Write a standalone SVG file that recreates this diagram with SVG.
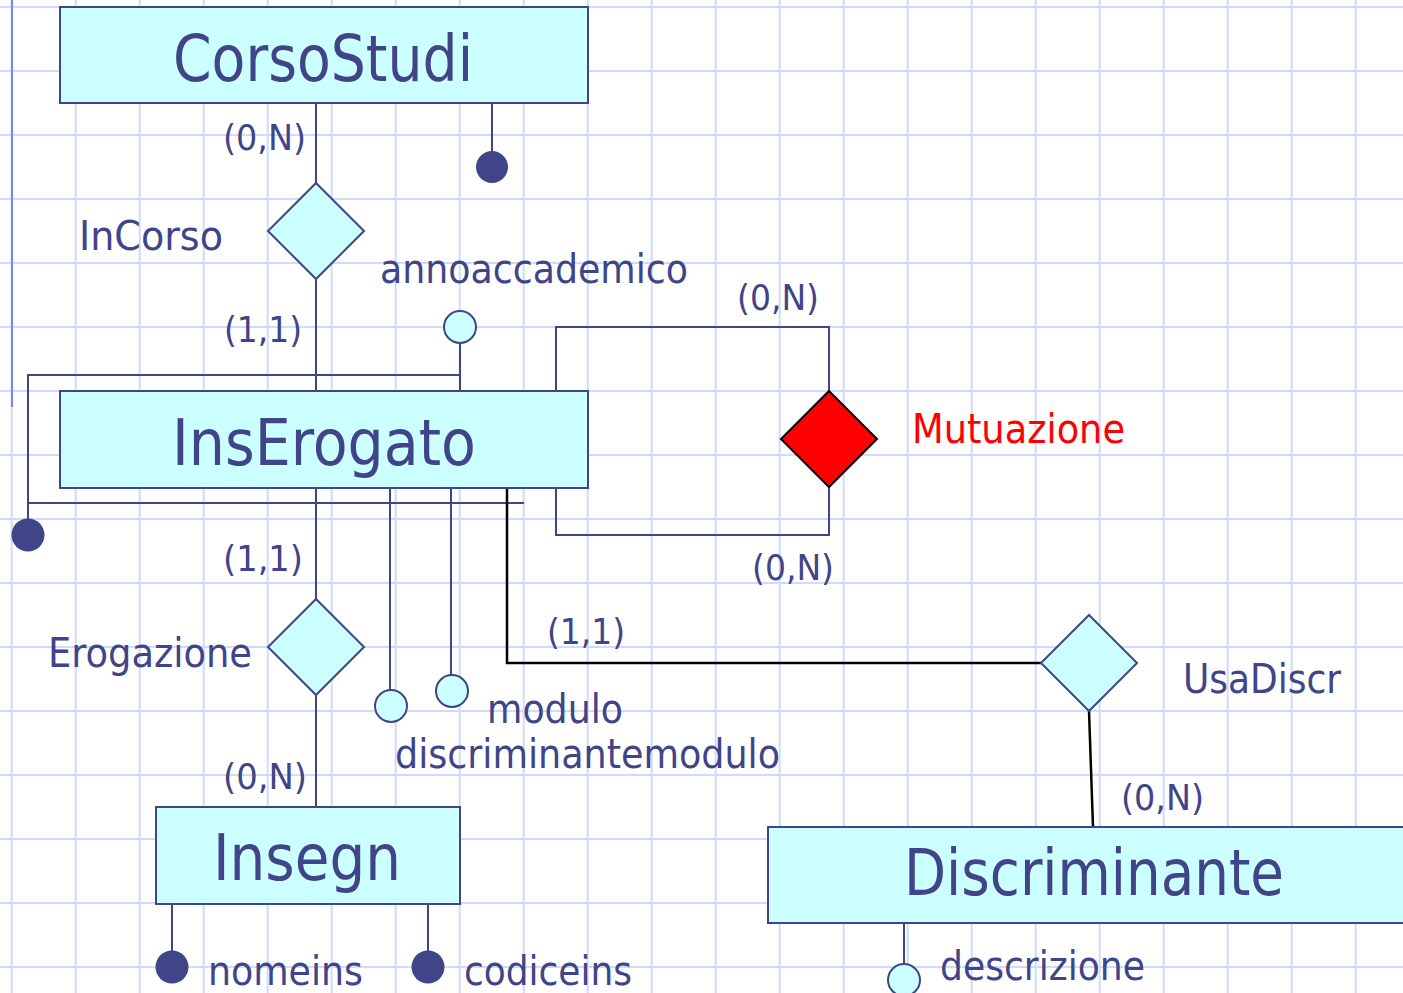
<svg xmlns="http://www.w3.org/2000/svg" width="1403" height="993" viewBox="0 0 1403 993">
<defs>
<pattern id="grid" x="10.7" y="6" width="64" height="64" patternUnits="userSpaceOnUse">
<path d="M0 1 H64 M1 0 V64" fill="none" stroke="#d0dbfb" stroke-width="2"/>
</pattern>
</defs>
<style>
.ent{fill:#ccffff;stroke:#404488;stroke-width:2}
.rel{fill:#ccffff;stroke:#404488;stroke-width:2}
.ln{fill:none;stroke:#404488;stroke-width:2}
.blk{fill:none;stroke:#000000;stroke-width:2.5}
.dot{fill:#404488;stroke:none}
.att{fill:#ccffff;stroke:#404488;stroke-width:2}
text{font-family:"DejaVu Sans Condensed","DejaVu Sans",sans-serif;fill:#404488}
.big{font-size:64px}
.lab{font-size:40px}
.card{font-size:36px}
.red{fill:#ff0000}
</style>
<rect width="1403" height="993" fill="#ffffff"/>
<rect width="1403" height="993" fill="url(#grid)"/>
<line x1="12" y1="0" x2="12" y2="407" stroke="#7388ee" stroke-width="2"/>

<g id="connectors">
<line class="ln" x1="316" y1="103" x2="316" y2="183"/>
<line class="ln" x1="492" y1="103" x2="492" y2="152"/>
<line class="ln" x1="316" y1="279" x2="316" y2="391"/>
<polyline class="ln" points="460,343 460,375 28,375 28,520"/>
<line class="ln" x1="460" y1="375" x2="460" y2="391"/>
<line class="ln" x1="28" y1="503" x2="524" y2="503"/>
<polyline class="ln" points="556,391 556,327 829,327 829,391"/>
<polyline class="ln" points="556,488 556,535 829,535 829,487"/>
<line class="ln" x1="316" y1="488" x2="316" y2="599"/>
<line class="ln" x1="316" y1="695" x2="316" y2="807"/>
<line class="ln" x1="390" y1="488" x2="390" y2="690"/>
<line class="ln" x1="451" y1="488" x2="451" y2="675"/>
<polyline class="blk" points="507,488 507,663 1041,663"/>
<line class="blk" x1="1089" y1="711" x2="1093" y2="827"/>
<line class="ln" x1="172" y1="904" x2="172" y2="951"/>
<line class="ln" x1="428" y1="904" x2="428" y2="951"/>
<line class="ln" x1="904" y1="923" x2="904" y2="964"/>
</g>

<g id="CorsoStudi">
<rect class="ent" x="60" y="7" width="528" height="96"/>
<text class="big" x="173" y="81" textLength="300" lengthAdjust="spacingAndGlyphs">CorsoStudi</text>
<circle class="dot" cx="492" cy="167" r="16"/>
<text class="card" x="223" y="150" textLength="83" lengthAdjust="spacingAndGlyphs">(0,N)</text>
</g>

<g id="InCorso">
<polygon class="rel" points="316,183 364,231 316,279 268,231"/>
<text class="lab" x="79" y="250" textLength="144" lengthAdjust="spacingAndGlyphs">InCorso</text>
<text class="card" x="224" y="342" textLength="78" lengthAdjust="spacingAndGlyphs">(1,1)</text>
</g>

<g id="annoaccademico">
<circle class="att" cx="460" cy="327" r="16"/>
<text class="lab" x="380" y="283" textLength="308" lengthAdjust="spacingAndGlyphs">annoaccademico</text>
</g>

<g id="InsErogato">
<rect class="ent" x="60" y="391" width="528" height="97"/>
<text class="big" x="172" y="465" textLength="304" lengthAdjust="spacingAndGlyphs">InsErogato</text>
<circle class="dot" cx="28" cy="535" r="16.5"/>
</g>

<g id="Mutuazione">
<polygon points="829,391 877,439 829,487 781,439" fill="#ff0000" stroke="#000000" stroke-width="2"/>
<text class="lab red" x="912" y="443" textLength="213" lengthAdjust="spacingAndGlyphs" style="fill:#ff0000">Mutuazione</text>
<text class="card" x="737" y="310" textLength="82" lengthAdjust="spacingAndGlyphs">(0,N)</text>
<text class="card" x="752" y="580" textLength="82" lengthAdjust="spacingAndGlyphs">(0,N)</text>
</g>

<g id="Erogazione">
<polygon class="rel" points="316,599 364,647 316,695 268,647"/>
<text class="lab" x="48" y="667" textLength="204" lengthAdjust="spacingAndGlyphs">Erogazione</text>
<text class="card" x="223" y="571" textLength="80" lengthAdjust="spacingAndGlyphs">(1,1)</text>
<text class="card" x="223" y="789" textLength="84" lengthAdjust="spacingAndGlyphs">(0,N)</text>
</g>

<g id="modulo">
<circle class="att" cx="391" cy="706" r="16"/>
<circle class="att" cx="452" cy="691" r="16"/>
<text class="lab" x="487" y="723" textLength="136" lengthAdjust="spacingAndGlyphs">modulo</text>
<text class="lab" x="395" y="768" textLength="385" lengthAdjust="spacingAndGlyphs">discriminantemodulo</text>
</g>

<g id="UsaDiscr">
<polygon class="rel" points="1089,615 1137,663 1089,711 1041,663"/>
<text class="lab" x="1183" y="693" textLength="158" lengthAdjust="spacingAndGlyphs">UsaDiscr</text>
<text class="card" x="547" y="644" textLength="78" lengthAdjust="spacingAndGlyphs">(1,1)</text>
<text class="card" x="1121" y="810" textLength="83" lengthAdjust="spacingAndGlyphs">(0,N)</text>
</g>

<g id="Insegn">
<rect class="ent" x="156" y="807" width="304" height="97"/>
<text class="big" x="213" y="880" textLength="188" lengthAdjust="spacingAndGlyphs">Insegn</text>
<circle class="dot" cx="172" cy="967" r="16.5"/>
<circle class="dot" cx="428" cy="967" r="16.5"/>
<text class="lab" x="208" y="985" textLength="155" lengthAdjust="spacingAndGlyphs">nomeins</text>
<text class="lab" x="464" y="985" textLength="168" lengthAdjust="spacingAndGlyphs">codiceins</text>
</g>

<g id="Discriminante">
<rect class="ent" x="768" y="827" width="650" height="96"/>
<text class="big" x="904" y="895" textLength="380" lengthAdjust="spacingAndGlyphs">Discriminante</text>
<circle class="att" cx="904" cy="980" r="16"/>
<text class="lab" x="940" y="980" textLength="205" lengthAdjust="spacingAndGlyphs">descrizione</text>
</g>
</svg>
